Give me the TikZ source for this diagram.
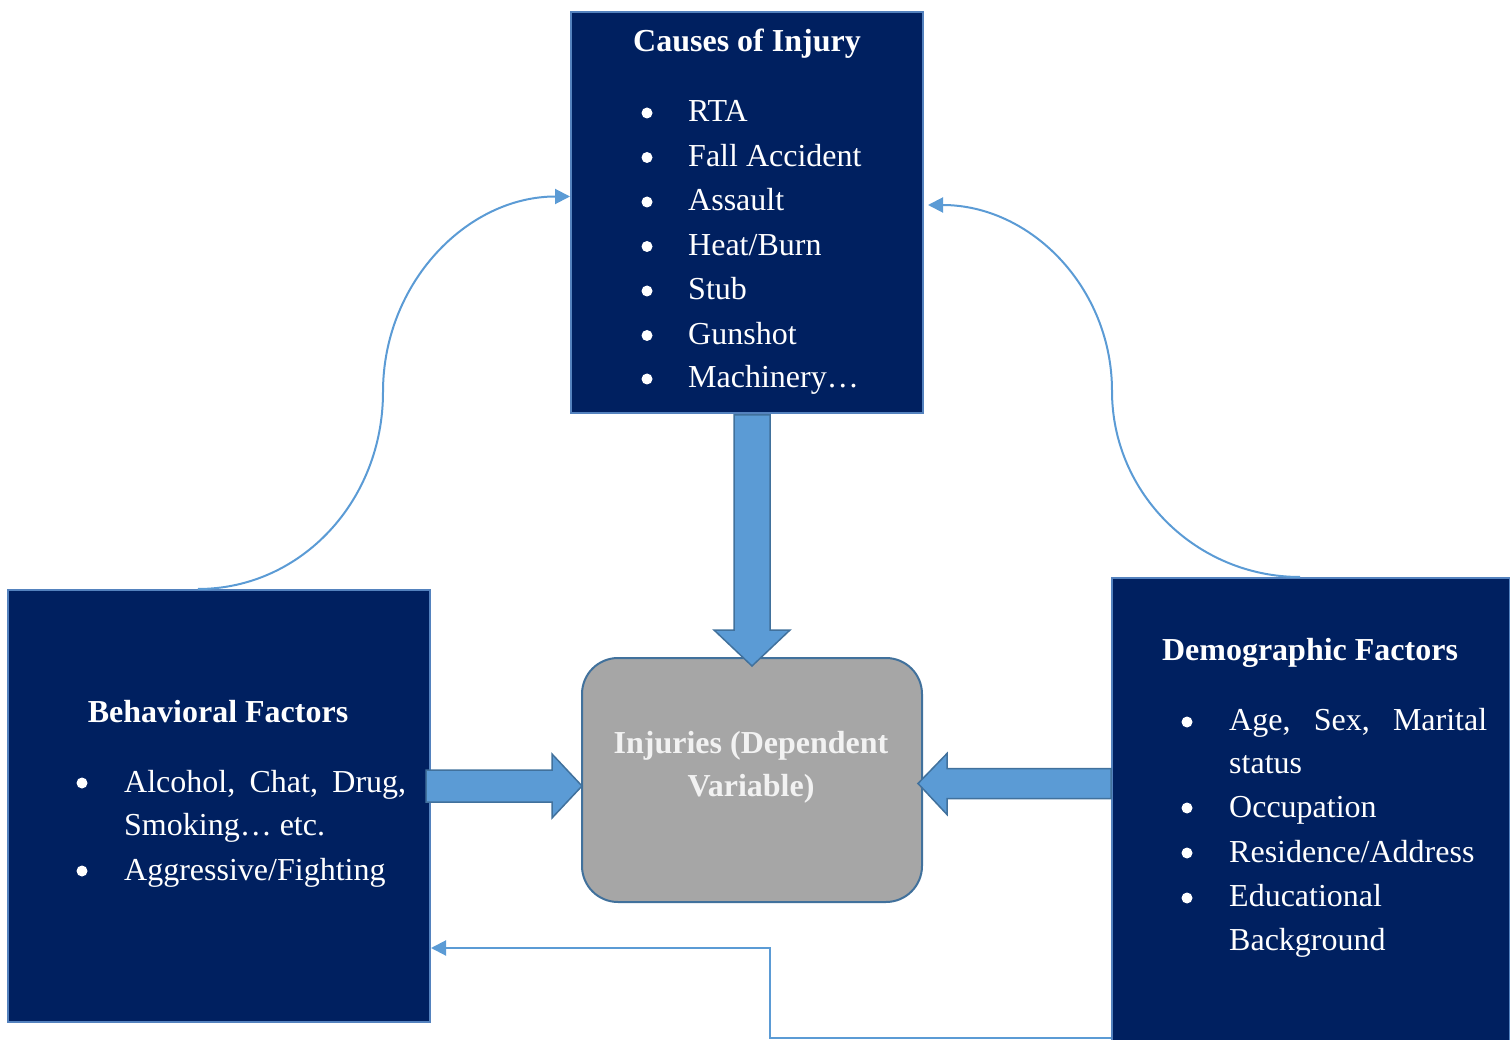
\documentclass[tikz,border=0pt]{standalone}
\usepackage{fontspec}
\setmainfont{Liberation Serif}
\usetikzlibrary{arrows.meta}

\definecolor{navy}{RGB}{0,32,96}
\definecolor{rimblue}{RGB}{84,130,190}
\definecolor{arrowblue}{RGB}{91,155,213}
\definecolor{arrowrim}{RGB}{65,113,156}
\definecolor{boxgray}{RGB}{166,166,166}
\definecolor{softwhite}{RGB}{242,242,242}

\begin{document}
\begin{tikzpicture}[x=1pt,y=-1pt,
    factorbox/.style={draw=rimblue, line width=2pt, fill=navy, anchor=north west, inner sep=0pt},
    heading/.style={text=white, font=\fontsize{32}{44}\selectfont\bfseries, anchor=base, inner sep=0pt},
    itemtext/.style={text=white, font=\fontsize{32}{44}\selectfont, anchor=base west, inner sep=0pt},
    dot/.style={circle, fill=white, minimum size=11pt, inner sep=0pt},
    fatarrow/.style={fill=arrowblue, draw=arrowrim, line width=1.5pt, line join=miter},
    link/.style={draw=arrowblue, line width=2pt, -{Triangle[length=15pt,width=15pt]}}]
    \useasboundingbox (0,0) rectangle (1510,1040);

    % boxes
    \node[factorbox, minimum width=352pt, minimum height=401pt] (causes) at (570,11) {};
    \node[factorbox, minimum width=422pt, minimum height=432pt] (behav) at (7,589) {};
    \node[factorbox, minimum width=398pt, minimum height=470pt] (demo) at (1111,577) {};
    \node[draw=arrowrim, line width=2pt, fill=boxgray, rounded corners=36pt, anchor=north west,
          minimum width=340pt, minimum height=244pt, inner sep=0pt] (inj) at (581,657) {};

    % causes of injury
    \node[heading] (ctitle) at (747,52) {Causes of Injury};
    \foreach \y/\word [count=\i] in {122/RTA, 166.5/Fall Accident, 211/Assault, 255.5/{Heat/Burn}, 300/Stub, 344.5/Gunshot, 388/Machinery…} {
        \node[dot] (cdot\i) at (647,\y-9) {};
        \node[itemtext] (citem\i) at (688,\y) {\word};
    }

    % behavioral factors
    \node[heading] (btitle) at (218,722) {Behavioral Factors};
    \node[dot] (bdot1) at (82,783) {};
    \node[itemtext] (bitem1) at (124,792) {\makebox[282pt][s]{Alcohol, Chat, Drug,}};
    \node[itemtext] (bitem2) at (124,835) {Smoking… etc.};
    \node[dot] (bdot2) at (82,871) {};
    \node[itemtext] (bitem3) at (124,880) {Aggressive/Fighting};

    % demographic factors
    \node[heading] (dtitle) at (1310,660) {Demographic Factors};
    \node[itemtext] (ditem1) at (1229,730) {\makebox[258pt][s]{Age, Sex, Marital}};
    \node[itemtext] (ditem2) at (1229,773) {status};
    \foreach \y/\word [count=\i] in {817/Occupation, 862/{Residence/Address}, 906/Educational} {
        \node[itemtext] (dlist\i) at (1229,\y) {\word};
    }
    \node[itemtext] (ditem3) at (1229,950) {Background};
    \foreach \y [count=\i] in {722, 808, 853, 898} {
        \node[dot] (ddot\i) at (1187,\y) {};
    }

    % dependent variable
    \node[heading, text=softwhite] (itext1) at (751,753) {Injuries (Dependent};
    \node[heading, text=softwhite] (itext2) at (751,796) {Variable)};

    % curved links
    \coordinate (lmid) at (383,392);
    \coordinate (rmid) at (1112,391);
    \draw[link] ([xshift=-21pt]behav.north) .. controls +(103,0) and +(0,109) .. (lmid)
        .. controls +(0,-109) and +(-103,0) .. ([yshift=16pt]causes.west);
    \draw[link] ([xshift=-11pt]demo.north) .. controls +(-103,0) and +(0,103) .. (rmid)
        .. controls +(0,-103) and +(103,0) .. ([shift={(4pt,7.5pt)}]causes.east);

    % bottom link
    \coordinate (dlow) at (1111,1038);
    \coordinate (bend) at (770,948);
    \draw[link] (dlow) -| (bend) -- (behav.east |- bend);

    % block arrows
    \draw[fatarrow] (inj.north |- causes.south) ++(-18,1) -- ++(36,0) -- ++(0,215) -- ++(20,0)
        -- ++(-38,36) -- ++(-38,-36) -- ++(20,0) -- cycle;
    \draw[fatarrow] (behav.east |- inj.west) ++(-5,-10) -- ++(126,0) -- ++(0,-16) -- ++(30,32)
        -- ++(-30,32) -- ++(0,-16) -- ++(-126,0) -- cycle;
    \draw[fatarrow] (demo.west |- inj.east) ++(0,-11.5) -- ++(-164,0) -- ++(0,-15) -- ++(-29,30)
        -- ++(29,31) -- ++(0,-16) -- ++(164,0) -- cycle;
\end{tikzpicture}
\end{document}
